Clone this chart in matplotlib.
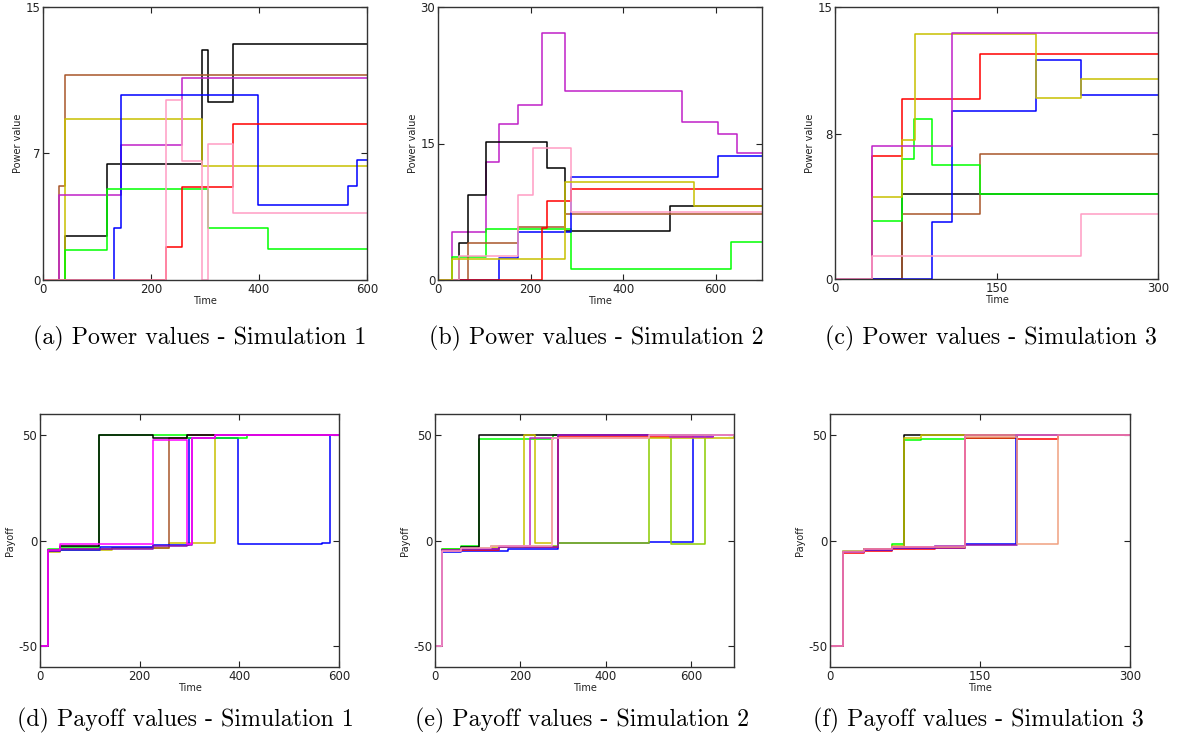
import matplotlib
matplotlib.use("Agg")
import matplotlib.pyplot as plt

plt.rcParams['axes.unicode_minus'] = False
plt.rcParams['font.family'] = ['DejaVu Sans']

# ---------------- colours ----------------
BLACK = '#000000'
BROWN = '#a8562a'
OLIVE = '#c8c000'
MAG = '#c020c8'
BLUE = '#0000ff'
GREEN = '#00ff00'
RED = '#ff0000'
PINK = '#ff9cc4'
BMAG = '#ff00ff'
PURPLE = '#8a10b0'
YGREEN = '#8ccc00'
HPINK = '#e868b0'
SALMON = '#f0a080'

# ---------------- Simulation 1 power ----------------
a_black_t = [0, 40, 119, 295, 306, 352, 600]
a_black_v = [0, 2.4, 6.35, 12.66, 9.79, 12.99, 12.99]
a_brown_t = [0, 29, 40, 600]
a_brown_v = [0, 5.19, 11.27, 11.27]
a_olive_t = [0, 40, 295, 600]
a_olive_v = [0, 8.82, 6.26, 6.26]
a_mag_t = [0, 29, 145, 258, 600]
a_mag_v = [0, 4.66, 7.41, 11.1, 11.1]
a_blue_t = [0, 132, 145, 399, 565, 581, 600]
a_blue_v = [0, 2.87, 10.19, 4.12, 5.16, 6.57, 6.57]
a_green_t = [0, 40, 119, 306, 416, 600]
a_green_v = [0, 1.65, 5.01, 2.84, 1.68, 1.68]
a_red_t = [0, 227, 258, 352, 600]
a_red_v = [0, 1.83, 5.10, 8.58, 8.58]
a_pink_t = [0, 227, 258, 295, 306, 352, 600]
a_pink_v = [0, 9.91, 6.53, 0, 7.5, 3.66, 3.66]

# ---------------- Simulation 2 power ----------------
b_mag_t = [0, 30, 103, 132, 173, 224, 275, 528, 604, 646, 700]
b_mag_v = [0, 5.23, 12.92, 17.12, 19.28, 27.15, 20.75, 17.34, 16.06, 14.01, 14.01]
b_black_t = [0, 45, 64, 104, 235, 275, 501, 700]
b_black_v = [0, 4.06, 9.29, 15.18, 12.33, 5.42, 8.12, 8.12]
b_pink_t = [0, 45, 173, 206, 287, 700]
b_pink_v = [0, 2.63, 9.33, 14.56, 7.46, 7.46]
b_green_t = [0, 30, 104, 287, 633, 700]
b_green_v = [0, 2.56, 5.56, 1.17, 4.17, 4.17]
b_brown_t = [0, 64, 173, 275, 700]
b_brown_v = [0, 4.06, 5.85, 7.28, 7.28]
b_blue_t = [0, 132, 173, 287, 604, 700]
b_blue_v = [0, 2.38, 5.27, 11.34, 13.61, 13.61]
b_red_t = [0, 224, 235, 287, 700]
b_red_v = [0, 5.74, 8.67, 10.03, 10.03]
b_olive_t = [0, 30, 275, 554, 700]
b_olive_v = [0, 2.27, 10.72, 8.12, 8.12]

# ---------------- Simulation 3 power ----------------
c_olive_t = [0, 34.7, 62, 74.4, 187, 228.7, 300]
c_olive_v = [0, 4.51, 7.67, 13.53, 9.98, 11.04, 11.04]
c_mag_t = [0, 34.7, 108.5, 300]
c_mag_v = [0, 7.31, 13.56, 13.56]
c_red_t = [0, 34.7, 62.6, 134.8, 300]
c_red_v = [0, 6.77, 9.90, 12.42, 12.42]
c_blue_t = [0, 90.5, 108.5, 187, 228.7, 300]
c_blue_v = [0, 3.17, 9.29, 12.06, 10.12, 10.12]
c_green_t = [0, 34.7, 62, 73.5, 90.5, 134.8, 300]
c_green_v = [0, 3.20, 6.64, 8.80, 6.29, 4.66, 4.66]
c_black_t = [0, 62.6, 300]
c_black_v = [0, 4.69, 4.69]
c_brown_t = [0, 62.6, 134.8, 300]
c_brown_v = [0, 3.59, 6.87, 6.87]
c_pink_t = [0, 34.7, 228.7, 300]
c_pink_v = [0, 1.29, 3.59, 3.59]

# ---------------- Simulation 1 payoff ----------------
d_black_t = [0, 17, 40, 118, 226, 294, 600]
d_black_v = [-50, -4.5, -2.5, 50, 48.6, 50, 50]
d_green_t = [0, 17, 40, 118, 294, 415, 600]
d_green_v = [-50, -4.2, -3.0, 50, 48.6, 50, 50]
d_blue_t = [0, 17, 40, 120, 226, 298, 398, 565, 582, 600]
d_blue_v = [-50, -5.0, -4.5, -3.2, -2.3, 48.6, -1.5, -1.0, 50, 50]
d_brown_t = [0, 17, 40, 145, 258, 294, 600]
d_brown_v = [-50, -5.0, -4.2, -3.5, 48.6, 50, 50]
d_olive_t = [0, 17, 40, 145, 258, 351, 600]
d_olive_v = [-50, -5.5, -4.5, -3.6, -1.3, 50, 50]
d_purple_t = [0, 17, 40, 226, 294, 305, 351, 600]
d_purple_v = [-50, -5.0, -4.0, -2.8, -2.2, 48.6, 50, 50]
d_mag_t = [0, 17, 40, 226, 294, 305, 351, 600]
d_mag_v = [-50, -4.3, -1.6, 47.5, -1.5, 48.6, 50, 50]

# ---------------- Simulation 2 payoff ----------------
e_black_t = [0, 17, 62, 104, 700]
e_black_v = [-50, -4.5, -3.0, 50, 50]
e_green_t = [0, 17, 62, 104, 277, 700]
e_green_v = [-50, -4.0, -2.5, 48.3, 50, 50]
e_olive_t = [0, 17, 62, 130, 208, 235, 274, 700]
e_olive_v = [-50, -5.0, -4.0, -3.0, 50, -1.3, 48.5, 50]
e_ygreen_t = [0, 17, 62, 130, 288, 500, 552, 633, 700]
e_ygreen_v = [-50, -4.2, -3.5, -2.8, -1.3, 50, -1.5, 50, 50]
e_mag_t = [0, 17, 62, 150, 222, 288, 551, 650, 700]
e_mag_v = [-50, -4.5, -3.8, -2.5, 48.5, 50, 49, 50, 50]
e_purple_t = [0, 17, 62, 150, 288, 700]
e_purple_v = [-50, -5.0, -4.0, -3.0, 50, 50]
e_blue_t = [0, 17, 62, 170, 288, 500, 605, 650, 700]
e_blue_v = [-50, -5.5, -5.0, -4.0, -1.3, -0.8, 49, 50, 50]
e_red_t = [0, 17, 62, 150, 288, 604, 700]
e_red_v = [-50, -5.2, -4.5, -3.3, 49, 50, 50]
e_pink_t = [0, 17, 62, 130, 274, 500, 700]
e_pink_v = [-50, -4.8, -3.5, -2.5, 48.4, 50, 50]

# ---------------- Simulation 3 payoff ----------------
f_black_t = [0, 12.7, 34, 62, 74, 300]
f_black_v = [-50, -5.5, -4.0, -3.0, 50, 50]
f_olive_t = [0, 12.7, 34, 62, 74, 90.7, 300]
f_olive_v = [-50, -5.5, -4.0, -2.5, 48.6, 50, 50]
f_green_t = [0, 12.7, 34, 62, 74, 90.7, 135, 187, 300]
f_green_v = [-50, -5.0, -4.0, -1.5, 47.5, 48.2, 48.6, 50, 50]
f_blue_t = [0, 12.7, 34, 62, 105, 134.6, 186.4, 300]
f_blue_v = [-50, -5.5, -4.5, -3.5, -2.8, -1.5, 50, 50]
f_purple_t = [0, 12.7, 34, 62, 134.6, 187, 300]
f_purple_v = [-50, -5.5, -4.5, -3.5, -2.0, 50, 50]
f_red_t = [0, 12.7, 34, 62, 105, 134.6, 187, 228, 300]
f_red_v = [-50, -6.0, -5.0, -4.2, -3.5, 48.6, 48.0, 50, 50]
f_salmon_t = [0, 12.7, 34, 62, 134.6, 187, 228, 300]
f_salmon_v = [-50, -5.0, -4.0, -3.0, 49, -1.5, 50, 50]
f_pink_t = [0, 12.7, 34, 62, 105, 134.6, 300]
f_pink_v = [-50, -5.5, -4.0, -3.0, -2.5, 50, 50]

captions = ["(a) Power values - Simulation 1", "(b) Power values - Simulation 2",
            "(c) Power values - Simulation 3", "(d) Payoff values - Simulation 1",
            "(e) Payoff values - Simulation 2", "(f) Payoff values - Simulation 3"]

W, H = 1180, 742
fig = plt.figure(figsize=(W / 100, H / 100), dpi=100)


def box(l, r, t, b):
    return [l / W, 1 - b / H, (r - l) / W, (b - t) / H]


def style(ax, xlim, xticks, ylim, yticks, ylabel):
    ax.set_xlim(*xlim)
    ax.set_ylim(*ylim)
    ax.set_xticks(xticks)
    ax.set_yticks(yticks)
    ax.tick_params(direction='in', top=True, right=True, length=4, width=0.8,
                   labelsize=8.5, colors='#222222', pad=2)
    for s in ax.spines.values():
        s.set_linewidth(1.0)
        s.set_color('#333333')
    ax.set_xlabel('Time', fontsize=7, labelpad=0, color='#222222')
    ax.set_ylabel(ylabel, fontsize=7, labelpad=2, color='#222222')


def draw(ax, series):
    for t, v, c in series:
        ax.step(t, v, where='post', color=c, lw=1.1)


axa = fig.add_axes(box(43, 367, 7, 280))
draw(axa, [(a_black_t, a_black_v, BLACK), (a_brown_t, a_brown_v, BROWN),
           (a_olive_t, a_olive_v, OLIVE), (a_mag_t, a_mag_v, MAG),
           (a_blue_t, a_blue_v, BLUE), (a_green_t, a_green_v, GREEN),
           (a_red_t, a_red_v, RED), (a_pink_t, a_pink_v, PINK)])
style(axa, (0, 600), [0, 200, 400, 600], (0, 15), [0, 7, 15], 'Power value')

axb = fig.add_axes(box(438, 762, 7, 280))
draw(axb, [(b_mag_t, b_mag_v, MAG), (b_black_t, b_black_v, BLACK),
           (b_green_t, b_green_v, GREEN), (b_brown_t, b_brown_v, BROWN),
           (b_blue_t, b_blue_v, BLUE), (b_red_t, b_red_v, RED),
           (b_pink_t, b_pink_v, PINK), (b_olive_t, b_olive_v, OLIVE)])
style(axb, (0, 700), [0, 200, 400, 600], (0, 30), [0, 15, 30], 'Power value')

axc = fig.add_axes(box(835, 1158, 7, 279))
draw(axc, [(c_black_t, c_black_v, BLACK), (c_brown_t, c_brown_v, BROWN),
           (c_green_t, c_green_v, GREEN), (c_blue_t, c_blue_v, BLUE),
           (c_red_t, c_red_v, RED), (c_olive_t, c_olive_v, OLIVE),
           (c_mag_t, c_mag_v, MAG), (c_pink_t, c_pink_v, PINK)])
style(axc, (0, 300), [0, 150, 300], (0, 15), [0, 8, 15], 'Power value')

axd = fig.add_axes(box(40, 339, 414, 667))
draw(axd, [(d_olive_t, d_olive_v, OLIVE), (d_brown_t, d_brown_v, BROWN),
           (d_blue_t, d_blue_v, BLUE), (d_green_t, d_green_v, GREEN),
           (d_black_t, d_black_v, BLACK), (d_purple_t, d_purple_v, PURPLE),
           (d_mag_t, d_mag_v, BMAG)])
style(axd, (0, 600), [0, 200, 400, 600], (-60, 60), [-50, 0, 50], 'Payoff')

axe = fig.add_axes(box(435, 734, 414, 667))
draw(axe, [(e_blue_t, e_blue_v, BLUE), (e_red_t, e_red_v, RED),
           (e_ygreen_t, e_ygreen_v, YGREEN), (e_green_t, e_green_v, GREEN),
           (e_black_t, e_black_v, BLACK), (e_olive_t, e_olive_v, OLIVE),
           (e_mag_t, e_mag_v, MAG), (e_purple_t, e_purple_v, PURPLE),
           (e_pink_t, e_pink_v, PINK)])
style(axe, (0, 700), [0, 200, 400, 600], (-60, 60), [-50, 0, 50], 'Payoff')

axf = fig.add_axes(box(830, 1130, 414, 667))
draw(axf, [(f_green_t, f_green_v, GREEN), (f_black_t, f_black_v, BLACK),
           (f_olive_t, f_olive_v, OLIVE), (f_red_t, f_red_v, RED),
           (f_blue_t, f_blue_v, BLUE), (f_purple_t, f_purple_v, PURPLE),
           (f_salmon_t, f_salmon_v, SALMON), (f_pink_t, f_pink_v, HPINK)])
style(axf, (0, 300), [0, 150, 300], (-60, 60), [-50, 0, 50], 'Payoff')

cap_pos = [(200, 338), (596, 338), (991, 338), (185, 720), (582, 720), (978, 720)]
for (cx, cy), txt in zip(cap_pos, captions):
    fig.text(cx / W, 1 - cy / H, txt, ha='center', va='center',
             fontsize=17.2, family=['cmr10', 'DejaVu Serif'], color='#000000')

fig.savefig('out.png', dpi=100)
